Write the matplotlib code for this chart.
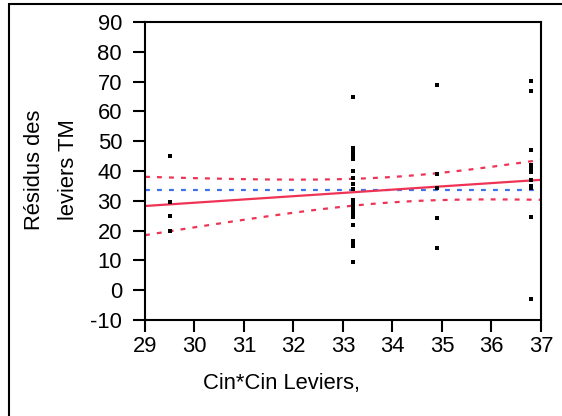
import matplotlib.pyplot as plt
import numpy as np
from matplotlib.patches import Rectangle

# Leverage plot data (x = Cin*Cin leverage, y = TM leverage residual)
# repeated values are points that sit on top of each other
x_levels = [29.5, 33.2, 34.9, 36.8]
res_29 = [45, 29.7, 29.7, 29.7, 29.7, 25.0, 19.9]
res_33 = [65, 47.6, 46.5, 45.4, 43.9, 40.0, 37.8, 35.5, 33.9, 30.3, 29.2,
          28.0, 26.9, 25.8, 24.7, 21.9, 16.5, 15.7, 14.9, 9.6]
res_35 = [69, 39.0, 34.4, 24.3, 14.3]
res_37 = [70.3, 66.9, 47.0, 42.0, 41.1, 40.2, 39.5, 37.0, 35.0, 35.0, 34.2, 34.2,
          24.5, 24.5, 24.5, -3]

x_ticks = [29, 30, 31, 32, 33, 34, 35, 36, 37]
y_ticks = [-10, 0, 10, 20, 30, 40, 50, 60, 70, 80, 90]
t_crit = 2.013  # t quantile 0.975, df = 46

plt.rcParams['font.family'] = ['Liberation Sans', 'DejaVu Sans']
plt.rcParams['axes.unicode_minus'] = False

groups = [res_29, res_33, res_35, res_37]
x = np.concatenate([[xv] * len(g) for xv, g in zip(x_levels, groups)])
y = np.concatenate(groups)

# least squares fit + confidence curves for the line
n = len(x)
slope, intercept = np.polyfit(x, y, 1)
resid = y - (intercept + slope * x)
s = np.sqrt(np.sum(resid**2) / (n - 2))
sxx = np.sum((x - x.mean())**2)
xx = np.linspace(x_ticks[0], x_ticks[-1], 200)
fit = intercept + slope * xx
half = t_crit * s * np.sqrt(1 / n + (xx - x.mean())**2 / sxx)

red = '#ee3355'
blue = '#3f74e6'
dots = (0, (2.2, 3.2))

fig = plt.figure(figsize=(5.62, 4.16), dpi=100)
ax = fig.add_axes([0.258, 0.2308, 0.7046, 0.7163])

ax.plot(xx, np.full_like(xx, y.mean()), color=blue, lw=1.6, ls=dots)
ax.plot(xx, fit, color=red, lw=1.6)
ax.plot(xx, fit + half, color=red, lw=1.6, ls=dots)
ax.plot(xx, fit - half, color=red, lw=1.6, ls=dots)
ax.plot(x, y, 's', color='black', ms=2.8, mew=0)

ax.set_xlim(x_ticks[0], x_ticks[-1])
ax.set_ylim(y_ticks[0], y_ticks[-1])
ax.set_xticks(x_ticks)
ax.set_yticks(y_ticks)
ax.tick_params(direction='out', length=8.5, width=1.5, labelsize=15.8, color='black')
ax.tick_params(axis='y', pad=8)
ax.tick_params(axis='x', pad=3)
for sp in ax.spines.values():
    sp.set_linewidth(1.5)

fig.text(35 / 562, 1 - 170 / 416, 'Résidus des', rotation=90, fontsize=15.8,
         ha='center', va='center')
fig.text(68 / 562, 1 - 170 / 416, 'leviers TM', rotation=90, fontsize=15.8,
         ha='center', va='center')
fig.text(203 / 562, 1 - 384 / 416, 'Cin*Cin Leviers,', fontsize=15.8,
         ha='left', va='center')

# outer frame around the report panel
fig.patches.append(Rectangle((9 / 562, -0.1), 2, 1.1 - 4 / 416, transform=fig.transFigure,
                             fill=False, lw=1.5, edgecolor='black'))

fig.savefig('out.png', dpi=100)
